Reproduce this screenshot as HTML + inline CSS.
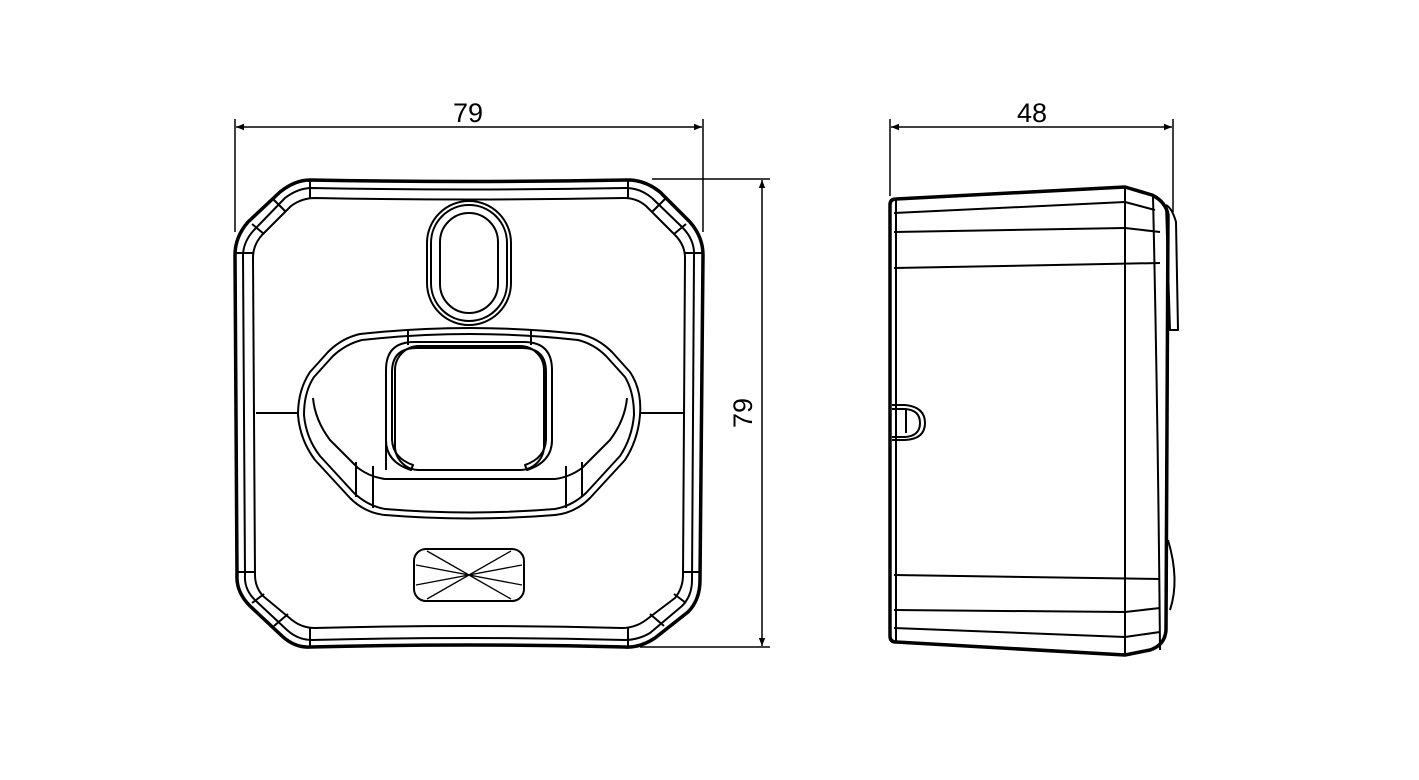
<!DOCTYPE html><html><head><style>body{margin:0;background:#fff}svg{display:block}</style></head><body>
<svg width="1419" height="780" viewBox="0 0 1419 780" xmlns="http://www.w3.org/2000/svg" fill="none" stroke="#000" stroke-linejoin="round">
<defs><marker id="a" viewBox="0 0 10 10" refX="10" refY="5" markerWidth="22" markerHeight="8" markerUnits="userSpaceOnUse" orient="auto-start-reverse"><path d="M0,1 L10,5 L0,9 Z" fill="#000" stroke="none"/></marker></defs>
<g stroke-width="1.5">
<line x1="235" y1="119" x2="235" y2="232"/><line x1="703" y1="119" x2="703" y2="232"/>
<line x1="236" y1="127" x2="702" y2="127" marker-start="url(#a)" marker-end="url(#a)"/>
<line x1="652" y1="179" x2="770" y2="179"/><line x1="640" y1="647" x2="770" y2="647"/>
<line x1="762" y1="180" x2="762" y2="646" marker-start="url(#a)" marker-end="url(#a)"/>
<line x1="890" y1="119" x2="890" y2="196"/><line x1="1173" y1="119" x2="1173" y2="212"/>
<line x1="891" y1="127" x2="1172" y2="127" marker-start="url(#a)" marker-end="url(#a)"/>
</g>
<g fill="#000" stroke="none" font-family="Liberation Sans, sans-serif" font-size="27" text-anchor="middle">
<text x="468" y="122">79</text><text x="1032" y="122">48</text>
<text transform="translate(752,413) rotate(-90)">79</text>
</g>
<path stroke-width="3.5" d="M310,180 Q470,183 628,180 Q645,180 660,192 L690,222 Q703,237 703,255 L700,580 Q700,600 688,612 L655,638 Q640,648 625,647 Q470,643 310,647 Q295,648 282,636 L250,606 Q236,592 237,575 L235,255 Q235,237 248,222 L280,192 Q295,180 310,180 Z"/>
<g stroke-width="2">
<path d="M312,188 Q470,191 626,188 Q640,188 652,198 L682,227 Q695,240 694,256 L692,580 Q692,596 682,606 L650,633 Q638,640 625,640 Q470,636 312,640 Q298,640 287,630 L256,601 Q244,590 245,575 L243,256 Q243,242 254,230 L285,198 Q298,188 312,188 Z"/>
<path d="M315,198 Q470,201 624,198 Q637,198 646,206 L675,235 Q685,245 685,258 L683,575 Q683,588 675,598 L646,620 Q635,628 622,628 Q470,624 315,628 Q302,628 292,620 L263,596 Q255,587 255,575 L253,258 Q253,245 262,235 L291,206 Q302,198 315,198 Z"/>
<line x1="310" y1="180" x2="310" y2="198"/><line x1="628" y1="180" x2="628" y2="198"/>
<line x1="310" y1="628" x2="310" y2="647"/><line x1="628" y1="628" x2="628" y2="647"/>
<line x1="235" y1="253" x2="254" y2="253"/><line x1="685" y1="253" x2="703" y2="253"/>
<line x1="237" y1="572" x2="255" y2="572"/><line x1="683" y1="572" x2="701" y2="572"/>
<line x1="272" y1="198" x2="286" y2="212"/><line x1="666" y1="198" x2="652" y2="212"/>
<line x1="252" y1="224" x2="264" y2="234"/><line x1="686" y1="224" x2="674" y2="234"/>
<line x1="252" y1="603" x2="264" y2="594"/><line x1="686" y1="603" x2="674" y2="594"/>
<line x1="274" y1="626" x2="288" y2="614"/><line x1="664" y1="626" x2="650" y2="614"/>
<line x1="256" y1="413" x2="298" y2="413"/><line x1="640" y1="413" x2="683" y2="413"/>
<rect x="427" y="201" width="84" height="124" rx="42"/>
<rect x="431" y="205" width="76" height="116" rx="38"/>
<rect x="440" y="213" width="58" height="100" rx="29"/>
<path d="M360,334 Q470,322 580,334 Q598,338 612,352 L630,372 Q642,390 640,415 Q638,440 625,460 L590,498 Q575,513 555,515 Q470,522 385,515 Q365,513 350,498 L315,460 Q300,440 298,415 Q298,390 310,372 L328,352 Q342,338 360,334 Z"/>
<path d="M362,340 Q470,328 578,340 Q594,344 606,356 L625,377 Q634,392 634,415 Q632,438 620,456 L586,493 Q572,506 555,509 Q470,516 385,509 Q368,506 354,493 L320,456 Q306,438 304,415 Q304,392 314,377 L333,356 Q346,344 362,340 Z"/>
<path d="M313,398 Q315,420 330,440 L358,468 Q370,477 385,479 L555,479 Q570,477 582,468 L610,440 Q625,420 627,398"/>
<line x1="356" y1="462" x2="356" y2="497"/><line x1="373" y1="466" x2="373" y2="508"/><line x1="566" y1="466" x2="566" y2="508"/><line x1="582" y1="462" x2="582" y2="497"/>
<line x1="408" y1="330" x2="408" y2="345"/><line x1="531" y1="330" x2="531" y2="345"/>
<path d="M386,470 L386,370 Q386,342 414,342 L524,342 Q552,342 552,370 L552,440 Q552,462 527,470 L525,465 Q545,458 546,440 L546,372 Q546,348 522,348 L417,348 Q392,348 392,372 L392,440 Q393,458 413,465 L411,470 Q386,462 386,440"/>
<rect x="395" y="346" width="149" height="124" rx="24"/>
<rect x="414" y="549" width="110" height="52" rx="12"/>
</g>
<g stroke-width="1.3"><line x1="427" y1="551" x2="511" y2="599"/><line x1="511" y1="551" x2="427" y2="599"/><line x1="416" y1="565" x2="522" y2="585"/><line x1="522" y1="565" x2="416" y2="585"/></g>
<path stroke-width="3.5" d="M896,199 L1125,187 L1152,195 Q1166,202 1168,215 L1166,630 Q1165,645 1150,650 L1125,655 L896,642 Q890,642 890,636 L890,205 Q890,199 896,199 Z"/>
<g stroke-width="2">
<line x1="894" y1="213" x2="1125" y2="202"/><line x1="894" y1="232" x2="1125" y2="228"/><line x1="894" y1="268" x2="1160" y2="263"/>
<line x1="894" y1="575" x2="1160" y2="579"/><line x1="894" y1="610" x2="1125" y2="612"/><line x1="894" y1="628" x2="1125" y2="637"/>
<path d="M1125,202 L1155,210"/><path d="M1125,228 L1160,232"/><path d="M1125,612 L1160,608"/><path d="M1125,637 L1160,632"/>
<line x1="896" y1="199" x2="896" y2="642"/><line x1="1125" y1="187" x2="1125" y2="655"/>
<path d="M1153,196 Q1158,420 1160,650"/>
<path d="M1166,205 L1170,330 L1178,330 L1176,222 Q1172,208 1166,205"/>
<path d="M1168,540 Q1180,580 1170,610"/>
<path d="M892,405 L905,405 Q925,407 925,423 Q925,439 905,440 L892,440"/><path d="M892,409 L905,409 Q920,410 920,423 Q920,436 905,437 L892,437"/><line x1="906" y1="409" x2="906" y2="433"/>
</g>
</svg>
</body></html>
